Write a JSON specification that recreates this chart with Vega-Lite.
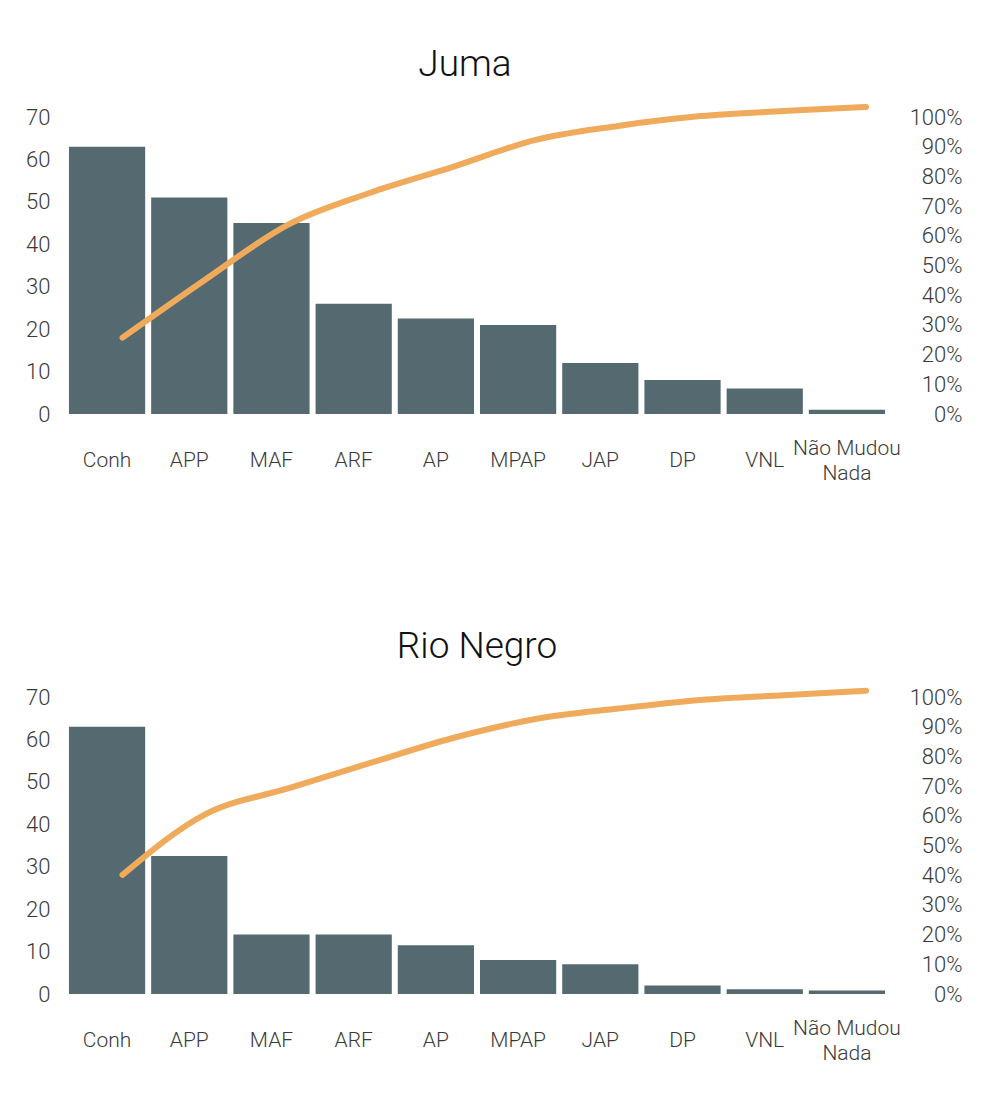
{
  "$schema": "https://vega.github.io/schema/vega-lite/v6.json",
  "padding": {"left": 25, "top": 45, "right": 10, "bottom": 10},
  "background": "white",
  "spacing": 145,
  "config": {
    "font": "Roboto",
    "view": {"stroke": null},
    "axis": {"domain": false, "ticks": false, "grid": false, "title": null, "labelFont": "Roboto", "labelFontSize": 21, "labelFontWeight": 300, "labelColor": "#3a3a3a"},
    "title": {"font": "Roboto", "fontSize": 37, "fontWeight": 300, "color": "#111111", "anchor": "middle"}
  },
  "datasets": {
    "juma": [
      {"cat": "Conh", "n": 63, "cum": 0.257},
      {"cat": "APP", "n": 51, "cum": 0.452},
      {"cat": "MAF", "n": 45, "cum": 0.637},
      {"cat": "ARF", "n": 26, "cum": 0.745},
      {"cat": "AP", "n": 22.5, "cum": 0.832},
      {"cat": "MPAP", "n": 21, "cum": 0.923},
      {"cat": "JAP", "n": 12, "cum": 0.970},
      {"cat": "DP", "n": 8, "cum": 1.003},
      {"cat": "VNL", "n": 6, "cum": 1.020},
      {"cat": "Não Mudou Nada", "n": 1, "cum": 1.034}
    ],
    "rio": [
      {"cat": "Conh", "n": 63, "cum": 0.401},
      {"cat": "APP", "n": 32.5, "cum": 0.605},
      {"cat": "MAF", "n": 14, "cum": 0.692},
      {"cat": "ARF", "n": 14, "cum": 0.778},
      {"cat": "AP", "n": 11.5, "cum": 0.862},
      {"cat": "MPAP", "n": 8, "cum": 0.926},
      {"cat": "JAP", "n": 7, "cum": 0.961},
      {"cat": "DP", "n": 2, "cum": 0.990},
      {"cat": "VNL", "n": 1.1, "cum": 1.006},
      {"cat": "Não Mudou Nada", "n": 0.8, "cum": 1.021}
    ]
  },
  "vconcat": [
    {
      "title": {"text": "Juma", "offset": 20, "dx": -12},
      "width": 822,
      "height": 297,
      "data": {"name": "juma"},
      "layer": [
        {
          "mark": {"type": "bar", "color": "#546a70"},
          "encoding": {
            "x": {"field": "cat", "type": "nominal", "sort": ["Conh", "APP", "MAF", "ARF", "AP", "MPAP", "JAP", "DP", "VNL", "Não Mudou Nada"], "scale": {"paddingInner": 0.073, "paddingOuter": 0.036},
              "axis": {"labelAngle": 0, "labelBaseline": "middle", "labelPadding": {"condition": {"test": "datum.value == 'Não Mudou Nada'", "value": 34}, "value": 46}, "labelLineHeight": 25, "labelExpr": "datum.value == 'Não Mudou Nada' ? ['Não Mudou', 'Nada'] : datum.value"}},
            "y": {"field": "n", "type": "quantitative", "scale": {"domain": [0, 70]}, "axis": {"values": [0, 10, 20, 30, 40, 50, 60, 70], "labelPadding": 16, "labelFontSize": 22}}
          }
        },
        {
          "mark": {"type": "line", "color": "#f0aa5c", "strokeWidth": 6, "strokeCap": "round", "strokeJoin": "round", "interpolate": "monotone"},
          "encoding": {
            "x": {"field": "cat", "type": "nominal", "sort": ["Conh", "APP", "MAF", "ARF", "AP", "MPAP", "JAP", "DP", "VNL", "Não Mudou Nada"], "scale": {"type": "point", "padding": 0.475, "align": 0.72}, "axis": null},
            "y": {"field": "cum", "type": "quantitative", "scale": {"domain": [0, 1]}, "axis": {"orient": "right", "format": ".0%", "values": [0, 0.1, 0.2, 0.3, 0.4, 0.5, 0.6, 0.7, 0.8, 0.9, 1], "labelAlign": "right", "labelPadding": 74, "labelFontSize": 22}}
          }
        }
      ],
      "resolve": {"scale": {"x": "independent", "y": "independent"}}
    },
    {
      "title": {"text": "Rio Negro", "offset": 20},
      "width": 822,
      "height": 297,
      "data": {"name": "rio"},
      "layer": [
        {
          "mark": {"type": "bar", "color": "#546a70"},
          "encoding": {
            "x": {"field": "cat", "type": "nominal", "sort": ["Conh", "APP", "MAF", "ARF", "AP", "MPAP", "JAP", "DP", "VNL", "Não Mudou Nada"], "scale": {"paddingInner": 0.073, "paddingOuter": 0.036},
              "axis": {"labelAngle": 0, "labelBaseline": "middle", "labelPadding": {"condition": {"test": "datum.value == 'Não Mudou Nada'", "value": 34}, "value": 46}, "labelLineHeight": 25, "labelExpr": "datum.value == 'Não Mudou Nada' ? ['Não Mudou', 'Nada'] : datum.value"}},
            "y": {"field": "n", "type": "quantitative", "scale": {"domain": [0, 70]}, "axis": {"values": [0, 10, 20, 30, 40, 50, 60, 70], "labelPadding": 16, "labelFontSize": 22}}
          }
        },
        {
          "mark": {"type": "line", "color": "#f0aa5c", "strokeWidth": 6, "strokeCap": "round", "strokeJoin": "round", "interpolate": "monotone"},
          "encoding": {
            "x": {"field": "cat", "type": "nominal", "sort": ["Conh", "APP", "MAF", "ARF", "AP", "MPAP", "JAP", "DP", "VNL", "Não Mudou Nada"], "scale": {"type": "point", "padding": 0.475, "align": 0.72}, "axis": null},
            "y": {"field": "cum", "type": "quantitative", "scale": {"domain": [0, 1]}, "axis": {"orient": "right", "format": ".0%", "values": [0, 0.1, 0.2, 0.3, 0.4, 0.5, 0.6, 0.7, 0.8, 0.9, 1], "labelAlign": "right", "labelPadding": 74, "labelFontSize": 22}}
          }
        }
      ],
      "resolve": {"scale": {"x": "independent", "y": "independent"}}
    }
  ]
}
